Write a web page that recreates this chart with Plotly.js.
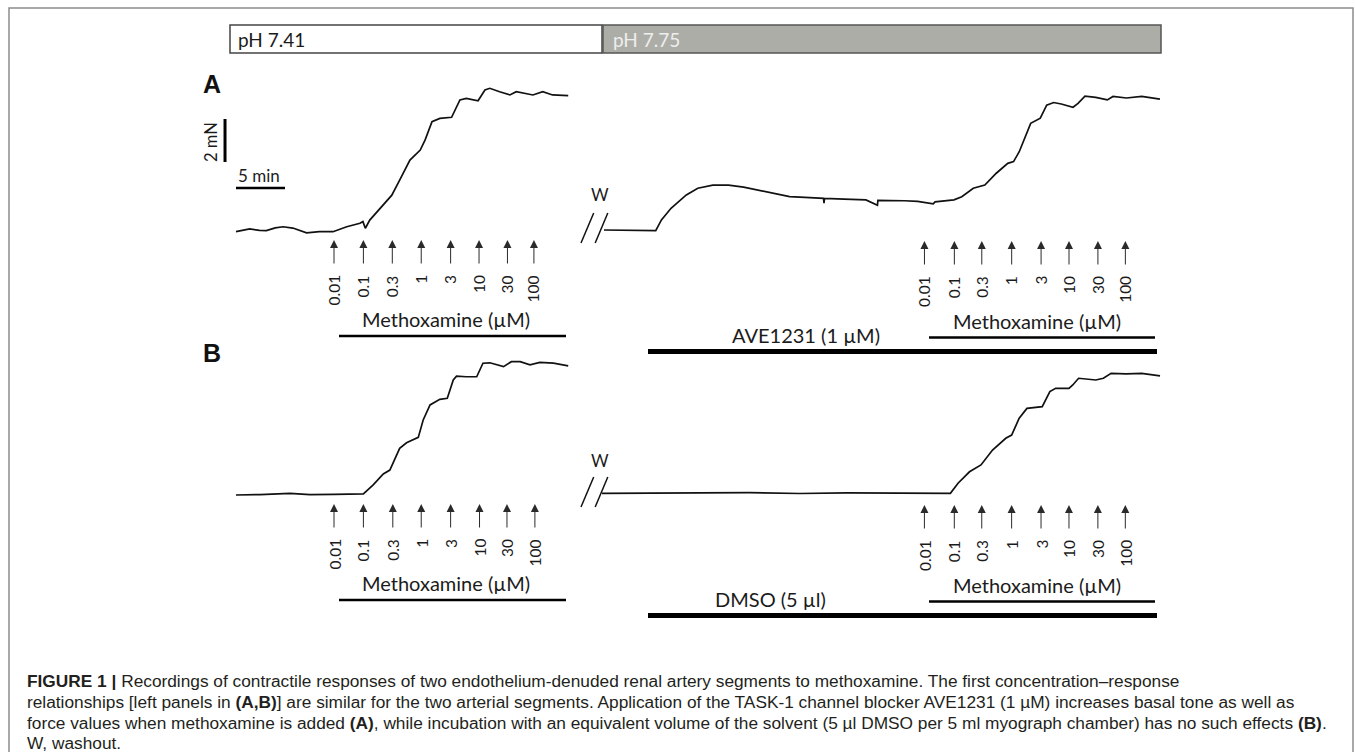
<!DOCTYPE html>
<html>
<head>
<meta charset="utf-8">
<script src="https://cdn.plot.ly/plotly-3.0.1.min.js"></script>
<style>html,body{margin:0;padding:0;background:#fff;}#chart{width:1355px;height:752px;}</style>
</head>
<body>
<div id="chart"></div>
<script>
// ---------------- data (minutes / mN, read from the recording) ----------------
const aLeftTime  = [0, 1.4, 2.4, 3.1, 4.0, 4.8, 5.8, 7.2, 8.5, 9.9, 11.3, 12.65, 12.95, 13.2, 13.65, 14.7, 15.9, 16.7, 17.75, 18.8, 19.3, 20.0, 20.8, 22.0, 22.5, 22.85, 23.5, 24.7, 25.4, 25.9, 26.9, 27.95, 28.6, 30.3, 31.3, 32.3, 33.9];
const aLeftForce = [0, 0.13, 0.06, 0.05, 0.18, 0.23, 0.17, -0.05, 0.0, 0.0, 0.23, 0.39, 0.47, 0.16, 0.54, 1.1, 1.7, 2.4, 3.33, 3.8, 4.27, 5.12, 5.27, 5.32, 5.81, 6.13, 6.2, 6.09, 6.59, 6.67, 6.51, 6.36, 6.51, 6.36, 6.51, 6.36, 6.33];

const aRightTime  = [0, 2.65, 5.28, 5.86, 6.84, 8.4, 9.57, 11.1, 12.7, 14.25, 16.6, 18.94, 20.5, 22.4, 22.45, 22.5, 24.5, 26.73, 27.9, 27.95, 30.65, 32.0, 33.6, 33.78, 35.71, 36.51, 37.68, 38.86, 40.03, 41.2, 41.79, 42.37, 43.54, 44.52, 45.17, 45.88, 46.66, 47.86, 48.37, 49.08, 50.18, 51.36, 51.94, 53.31, 54.87, 56.73];
const aRightForce = [0, -0.02, -0.03, 0.47, 1.01, 1.63, 1.94, 2.09, 2.09, 1.99, 1.78, 1.55, 1.52, 1.47, 1.25, 1.47, 1.44, 1.40, 1.15, 1.38, 1.36, 1.33, 1.22, 1.31, 1.40, 1.55, 1.94, 2.09, 2.64, 3.10, 3.18, 3.64, 4.96, 5.2, 5.81, 5.93, 5.86, 5.71, 5.89, 6.23, 6.17, 6.05, 6.21, 6.14, 6.21, 6.09];

const bLeftTime  = [0, 2.45, 5.5, 7.55, 10.0, 13.0, 14.0, 15.03, 15.7, 16.7, 17.4, 18.6, 19.1, 19.8, 20.8, 21.56, 22.17, 22.5, 23.5, 24.56, 25.2, 25.9, 27.3, 28.1, 29.0, 30.0, 31.0, 32.4, 33.9];
const bLeftForce = [0, 0.02, 0.08, 0.02, 0.03, 0.05, 0.47, 0.98, 1.16, 2.17, 2.43, 2.68, 3.49, 4.19, 4.45, 4.5, 5.35, 5.53, 5.5, 5.5, 6.13, 6.15, 5.97, 6.2, 6.2, 6.05, 6.17, 6.13, 6.01];

const bRightTime  = [0, 5, 10, 15, 20.2, 25, 30.4, 35.55, 36.33, 37.5, 38.67, 39.85, 41.2, 41.8, 42.57, 43.36, 44.92, 45.7, 46.29, 47.65, 48.04, 48.63, 50.39, 51.16, 51.95, 53.5, 55.07, 56.94];
const bRightForce = [0, 0.02, 0.01, 0.03, -0.01, 0.02, 0.01, 0, 0.47, 1.0, 1.32, 2.01, 2.56, 2.71, 3.49, 3.95, 4.03, 4.73, 4.88, 4.88, 5.04, 5.35, 5.27, 5.35, 5.58, 5.55, 5.58, 5.46];

const concLabels = ['0.01', '0.1', '0.3', '1', '3', '10', '30', '100'];
const addTimesALeft  = [10.0, 13.0, 15.95, 18.9, 21.9, 24.8, 27.7, 30.4];
const addTimesARight = [32.7, 35.75, 38.55, 41.6, 44.6, 47.45, 50.4, 53.2];
const addTimesBLeft  = [10.0, 13.0, 16.0, 18.9, 21.9, 24.85, 27.65, 30.5];
const addTimesBRight = [32.9, 35.95, 38.75, 41.8, 44.8, 47.65, 50.6, 53.4];

// ---------------- layout geometry ----------------
const W = 1355, H = 752;
const PXMIN = 9.8;   // px per minute (5 min scale bar = 49 px)
const PXMN = 21.5;   // px per mN (2 mN scale bar = 43 px)
const px = x => x / W, py = y => 1 - y / H;

const panels = [
  {k: '2', x0: 236, base: 231.7, tmin: -2, tmax: 40, t: aLeftTime,  f: aLeftForce,  adds: addTimesALeft,  arrowTop: 240, labelTop: 273},
  {k: '3', x0: 604, base: 230.0, tmin: -1, tmax: 60, t: aRightTime, f: aRightForce, adds: addTimesARight, arrowTop: 241, labelTop: 274},
  {k: '4', x0: 236, base: 495.0, tmin: -2, tmax: 40, t: bLeftTime,  f: bLeftForce,  adds: addTimesBLeft,  arrowTop: 504, labelTop: 537},
  {k: '5', x0: 602, base: 493.3, tmin: -1, tmax: 60, t: bRightTime, f: bRightForce, adds: addTimesBRight, arrowTop: 505, labelTop: 538}
];
const FMIN = -2, FMAX = 8;

const lblFont = {family: 'Lato, "Open Sans", sans-serif', size: 20, color: '#1b1b1b'};
const smallFont = {family: 'Lato, "Open Sans", sans-serif', size: 15.5, color: '#1b1b1b'};

const layout = {
  width: W, height: H,
  margin: {l: 0, r: 0, t: 0, b: 0},
  paper_bgcolor: '#ffffff', plot_bgcolor: 'rgba(0,0,0,0)',
  showlegend: false,
  shapes: [], annotations: []
};

const traces = [];
panels.forEach(p => {
  layout['xaxis' + p.k] = {
    domain: [px(p.x0 + p.tmin * PXMIN), px(p.x0 + p.tmax * PXMIN)],
    range: [p.tmin, p.tmax], visible: false, fixedrange: true, anchor: 'y' + p.k
  };
  layout['yaxis' + p.k] = {
    domain: [py(p.base - FMIN * PXMN), py(p.base - FMAX * PXMN)],
    range: [FMIN, FMAX], visible: false, fixedrange: true, anchor: 'x' + p.k
  };
  traces.push({
    x: p.t, y: p.f, xaxis: 'x' + p.k, yaxis: 'y' + p.k,
    type: 'scatter', mode: 'lines',
    line: {color: '#111111', width: 1.7, shape: 'linear'},
    hoverinfo: 'skip', showlegend: false
  });
  // addition arrows and concentration labels
  p.adds.forEach((tm, i) => {
    layout.annotations.push({
      xref: 'x' + p.k, yref: 'paper', x: tm, y: py(p.arrowTop),
      ax: 0, ay: 25, axref: 'pixel', ayref: 'pixel',
      text: '', showarrow: true, arrowhead: 2, arrowsize: 1.6, arrowwidth: 1,
      arrowcolor: '#2a2a2a', standoff: 0
    });
    layout.annotations.push({
      xref: 'x' + p.k, yref: 'paper', x: tm, y: py(p.labelTop),
      text: concLabels[i], textangle: -90, xanchor: 'center', yanchor: 'top',
      showarrow: false, font: smallFont
    });
  });
});

function hline(x0, x1, y, w, c) {
  return {type: 'line', xref: 'paper', yref: 'paper', x0: px(x0), x1: px(x1), y0: py(y), y1: py(y), line: {color: c || '#000', width: w}};
}
function seg(x0, y0, x1, y1, w, c) {
  return {type: 'line', xref: 'paper', yref: 'paper', x0: px(x0), x1: px(x1), y0: py(y0), y1: py(y1), line: {color: c || '#000', width: w}};
}
function rect(x0, y0, x1, y1, fill, lc, lw) {
  return {type: 'rect', xref: 'paper', yref: 'paper', x0: px(x0), x1: px(x1), y0: py(y1), y1: py(y0), fillcolor: fill, line: {color: lc, width: lw}, layer: 'below'};
}
function txt(x, y, s, font, opts) {
  return Object.assign({xref: 'paper', yref: 'paper', x: px(x), y: py(y), text: s, showarrow: false, font: font, xanchor: 'center', yanchor: 'middle'}, opts || {});
}

// outer frame
layout.shapes.push(rect(9, 8, 1353, 800, 'rgba(0,0,0,0)', '#8c8c8c', 1.5));
// pH bar
layout.shapes.push(rect(230, 25, 602, 53, '#ffffff', '#444444', 1.5));
layout.shapes.push(rect(603, 25, 1161, 53, '#adada8', '#555555', 1.5));
layout.annotations.push(txt(236, 39, 'pH 7.41', {family: 'Lato, sans-serif', size: 19, color: '#1b1b1b'}, {xanchor: 'left'}));
layout.annotations.push(txt(611, 39, 'pH 7.75', {family: 'Lato, sans-serif', size: 19, color: '#eeeeee'}, {xanchor: 'left'}));

// panel letters
const letterFont = {family: '"Liberation Sans", Arial, sans-serif', size: 25, color: '#111'};
layout.annotations.push(txt(212, 84, '<b>A</b>', letterFont));
layout.annotations.push(txt(212, 353, '<b>B</b>', letterFont));

// scale bars (in data units of panel A-left): 2 mN vertical, 5 min horizontal
layout.shapes.push({type: 'line', xref: 'x2', yref: 'y2', x0: -1.12, x1: -1.12, y0: 3.24, y1: 5.24, line: {color: '#000', width: 3}});
layout.shapes.push({type: 'line', xref: 'x2', yref: 'y2', x0: 0, x1: 5, y0: 2.03, y1: 2.03, line: {color: '#000', width: 2.5}});
layout.annotations.push(txt(211, 142, '2 mN', {family: 'Lato, sans-serif', size: 16.5, color: '#1b1b1b'}, {textangle: -90}));
layout.annotations.push(txt(259, 175, '5 min', {family: 'Lato, sans-serif', size: 17, color: '#1b1b1b'}));

// washout breaks
[0, 264].forEach(dy => {
  layout.shapes.push(seg(581, 243 + dy, 593.7, 213 + dy, 1.5, '#111'));
  layout.shapes.push(seg(595.2, 243 + dy, 607.8, 213 + dy, 1.5, '#111'));
});
layout.annotations.push(txt(600, 195, 'W', {family: 'Lato, sans-serif', size: 17, color: '#1b1b1b'}));
layout.annotations.push(txt(600, 461, 'W', {family: 'Lato, sans-serif', size: 17, color: '#1b1b1b'}));

// drug labels and bars
[0, 264].forEach(dy => {
  layout.annotations.push(txt(446, 319 + dy, 'Methoxamine (µM)', lblFont));
  layout.shapes.push(hline(339, 566, 336 + dy, 2.5));
  layout.annotations.push(txt(1037, 321 + dy, 'Methoxamine (µM)', lblFont));
  layout.shapes.push(hline(929, 1155, 337.5 + dy, 2.5));
  layout.shapes.push(hline(648, 1157, 351.5 + dy, 4.8));
});
layout.annotations.push(txt(806, 335, 'AVE1231 (1 µM)', lblFont));
layout.annotations.push(txt(771, 599, 'DMSO (5 µl)', lblFont));

// caption
const capFont = {family: '"Liberation Sans", Arial, Helvetica, sans-serif', size: 17.3, color: '#231f20'};
const captionLines = [
  '<b>FIGURE 1 |</b> Recordings of contractile responses of two endothelium-denuded renal artery segments to methoxamine. The first concentration–response',
  'relationships [left panels in <b>(A,B)</b>] are similar for the two arterial segments. Application of the TASK-1 channel blocker AVE1231 (1 µM) increases basal tone as well as',
  'force values when methoxamine is added <b>(A)</b>, while incubation with an equivalent volume of the solvent (5 µl DMSO per 5 ml myograph chamber) has no such effects <b>(B)</b>.',
  'W, washout.'
];
const captionY = [681, 702, 723, 743];
captionLines.forEach((s, i) => layout.annotations.push(txt(25, captionY[i], s, capFont, {xanchor: 'left'})));

Plotly.newPlot('chart', traces, layout, {displayModeBar: false, staticPlot: true});
</script>
</body>
</html>
